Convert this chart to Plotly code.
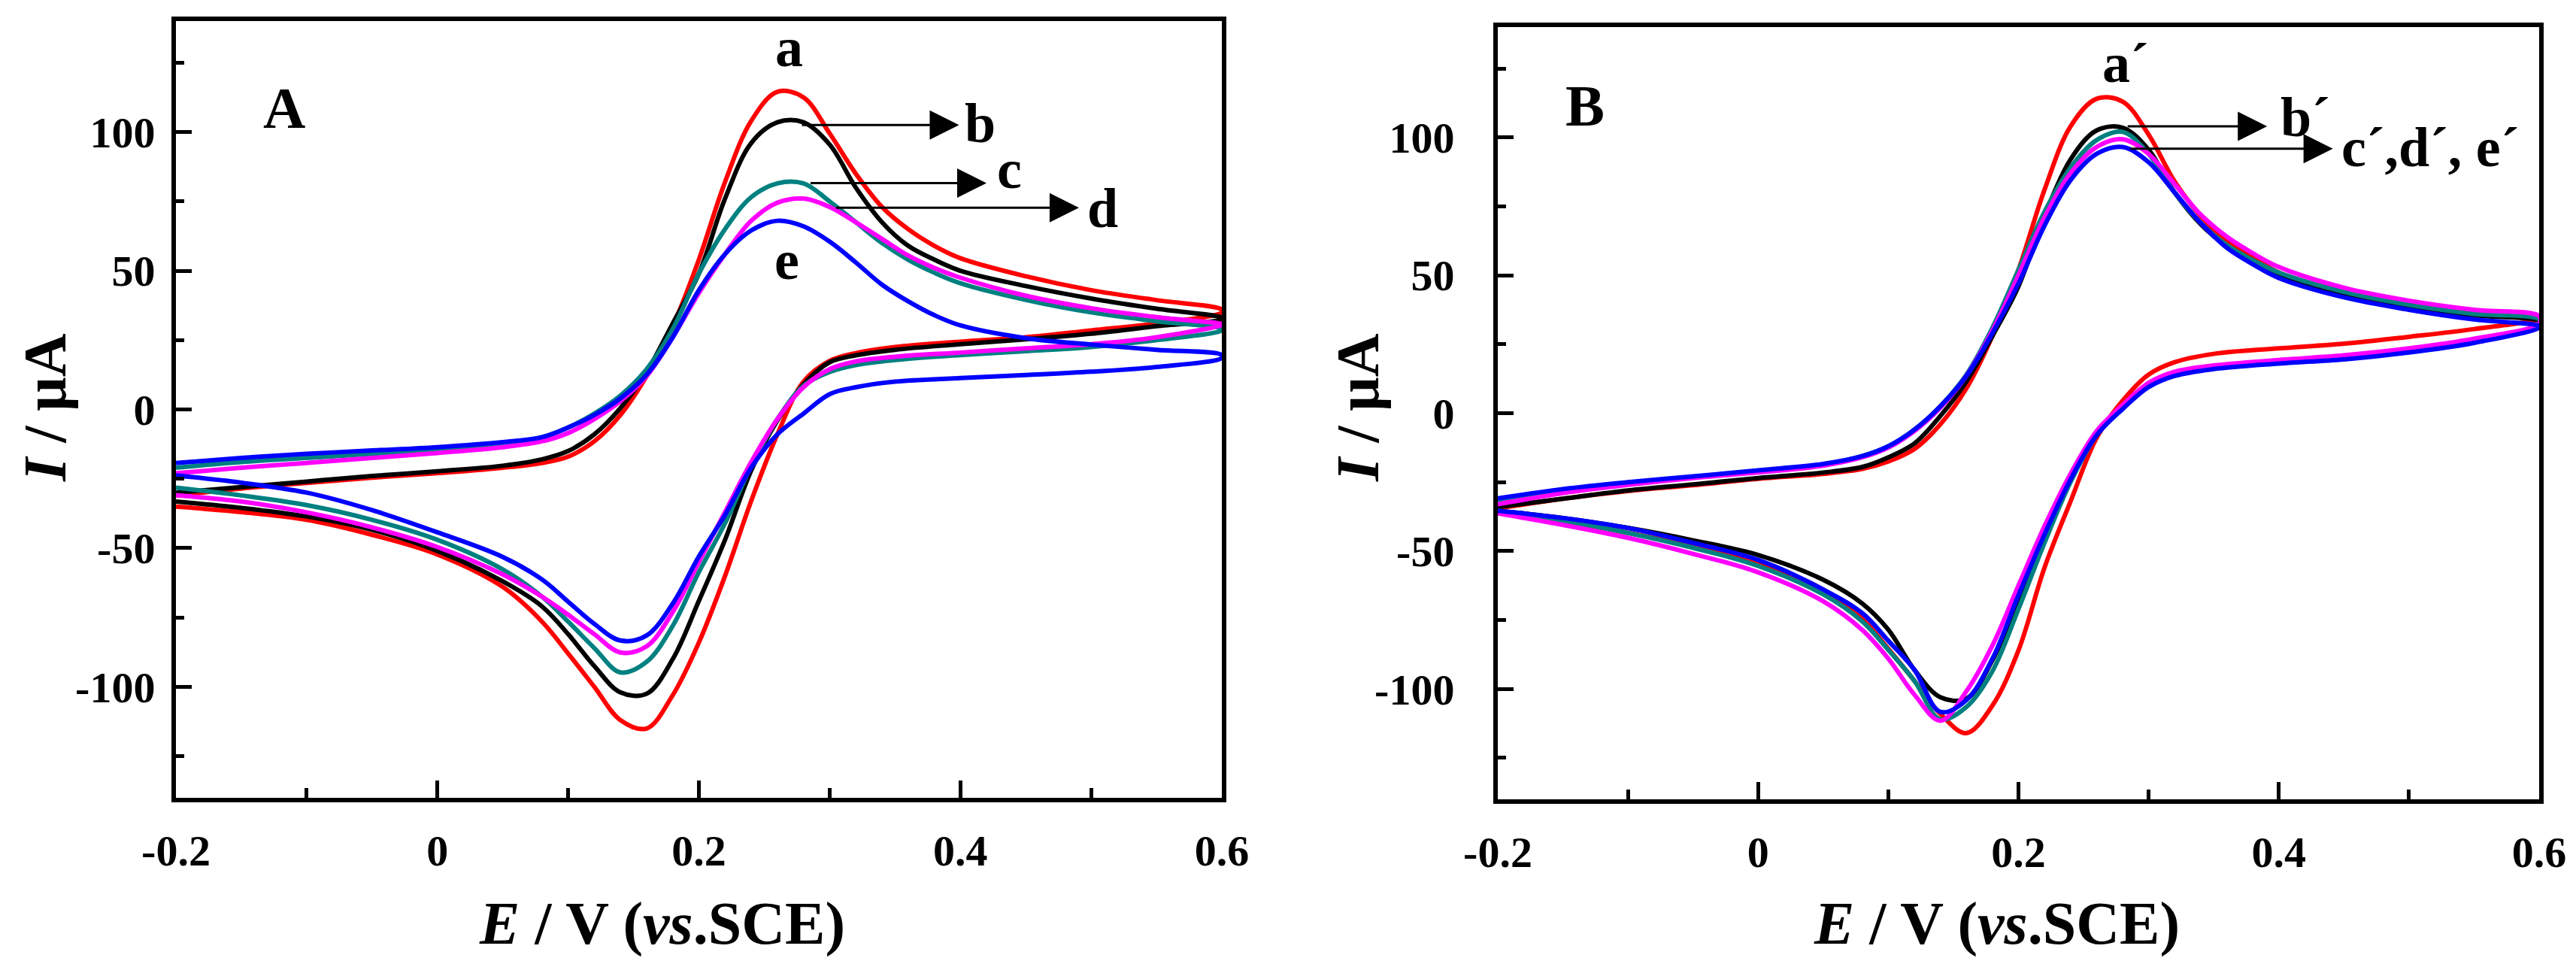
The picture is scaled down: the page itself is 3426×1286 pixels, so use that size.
import plotly.graph_objects as go

# page size; the html body keeps its default 8 px margin
W, H, OFF = 3410, 1270, 8

# potential grids (V vs SCE) for the anodic and the cathodic sweep
E_fwd = [-0.2, -0.15, -0.1, -0.05, 0.0, 0.05, 0.08, 0.1, 0.12, 0.14, 0.16, 0.18, 0.2,
         0.22, 0.24, 0.26, 0.28, 0.3, 0.32, 0.34, 0.36, 0.38, 0.4, 0.45, 0.5, 0.55, 0.6]
E_rev = [0.6, 0.55, 0.5, 0.45, 0.4, 0.35, 0.32, 0.3, 0.28, 0.26, 0.24, 0.22, 0.2,
         0.18, 0.16, 0.14, 0.12, 0.1, 0.08, 0.05, 0.0, -0.05, -0.1, -0.15, -0.2]

# panel A, current in uA
A_a_fwd = [-31, -28.5, -26.5, -24.6, -23, -21, -19.3, -17, -11.5, -2, 12, 30, 54,
           82, 104, 114.5, 112.5, 99.5, 85, 73, 65, 59, 54.5, 48, 43, 39.4, 36]
A_b_fwd = [-30, -28, -26, -24, -22.3, -20.3, -18, -15, -9, 0.5, 13.5, 31, 49,
           76, 96, 103.5, 103.5, 95.5, 80, 67.5, 59, 54, 50, 44.5, 40, 36.3, 33]
A_c_fwd = [-21, -19, -17.5, -16, -14.3, -12.2, -10, -6.5, -1.5, 5, 14.5, 29, 49,
           65, 76.5, 81.5, 81.5, 75, 67.5, 60, 54, 49.3, 45.5, 39.5, 35, 31.8, 29]
A_d_fwd = [-23, -21, -19.3, -17.5, -15.7, -13.6, -11.5, -8.5, -3.5, 3, 12, 26, 42,
           56, 68, 74.5, 76, 73, 67.5, 61.5, 55.5, 51, 47.5, 41, 36.5, 33.3, 30.7]
A_e_fwd = [-19.3, -17.5, -16, -14.8, -13.6, -11.8, -10, -6.5, -2, 4, 12.5, 26, 43,
           56, 64.5, 68, 66, 60.5, 53, 45, 39, 34, 30.3, 25.7, 23.4, 21.5, 19.6]

A_a_rev = [35, 31, 28.5, 26, 24.4, 22.5, 20.3, 17.5, 10, -9, -33, -60, -84,
           -103, -115, -112, -100, -88, -76.5, -64, -52.3, -45.2, -39.8, -37, -35]
A_b_rev = [32.5, 30, 27.3, 25.3, 23.5, 21.5, 19.5, 17, 9, -4, -22, -47, -69,
           -90, -102.5, -102, -92.5, -81, -71, -62, -51, -43.4, -38.6, -35.5, -33.2]
A_c_rev = [28.5, 25, 22.5, 21, 19.6, 17.8, 16, 13.5, 8.5, -3.5, -20.5, -41, -58.6,
           -78, -91, -94.8, -86, -76.5, -67.5, -57.7, -47, -39.8, -34.5, -31, -28.2]
A_d_rev = [30.5, 26, 23.5, 22, 20.5, 19, 17.3, 14.5, 8, -3.5, -19, -37, -55,
           -73, -85.4, -87.6, -81, -74, -67.5, -59.5, -49.6, -42.5, -37.1, -33.2, -30.9]
A_e_rev = [18.6, 15.3, 13.6, 12.4, 11.3, 10, 8, 5.5, -1.5, -9, -21, -38, -53,
           -70, -81.5, -83.3, -77.3, -69.3, -61.3, -53.2, -44.3, -36.3, -30, -26.4, -23.8]

# panel B
B_a_fwd = [-34.5, -31, -28.2, -26.1, -23.8, -22, -20.2, -17.5, -13, -4, 9, 28, 52,
           81, 104, 114, 113, 101, 84, 71.5, 62.5, 56.7, 51, 44, 39.5, 36.5, 35]
B_b_fwd = [-34, -31, -28, -25.8, -23.5, -21.5, -19.5, -16, -11, -1, 11.5, 28, 46,
           71.5, 92, 102.5, 103.5, 95.5, 80, 68.5, 60.5, 55, 50.5, 43, 38.5, 35.5, 33.4]
B_c_fwd = [-32, -28.5, -25.5, -23.2, -21, -18.6, -15.5, -12, -6, 2.5, 14, 31, 52,
           73, 89, 99, 102, 94, 80, 69, 61, 55.5, 51, 44, 39.3, 36, 34]
B_d_fwd = [-33, -29, -26, -23.5, -21.5, -19, -16, -12.5, -6.5, 2, 13.5, 30, 50,
           71, 87, 96.5, 99.3, 94, 83, 72, 64, 58, 53, 45.5, 40.8, 37.5, 35.2]
B_e_fwd = [-30.9, -27.5, -25, -22.9, -20.7, -18.4, -15.6, -12, -6, 2.5, 13.5, 29, 47,
           68, 84.5, 94, 96.5, 91, 80, 69, 60, 54, 49, 42, 37.5, 34, 31.6]

B_a_rev = [34.3, 30.5, 27.7, 25.2, 23.5, 21.5, 18.5, 14, 4.5, -9, -32, -56, -86,
           -106, -116, -109, -97, -85.4, -74.5, -64, -54, -48, -43.4, -39, -35.4]
B_b_rev = [32, 26.5, 23, 20.5, 18.8, 16.8, 14.3, 10, 2, -7.5, -24, -46, -67.5,
           -89.5, -103.5, -103, -93, -78.5, -69, -60.4, -51.4, -46.1, -41.6, -38, -35.4]
B_c_rev = [31.5, 26.3, 22.7, 20.3, 18.6, 16.6, 14, 10, 2, -8, -25, -47, -71,
           -93.5, -106.5, -111, -97, -85.8, -75.5, -65.7, -55.4, -48.8, -43.4, -39, -35.4]
B_d_rev = [32.5, 27, 23.5, 21, 19.3, 17.3, 15, 11, 3, -6.5, -22, -41, -62.5,
           -84.2, -100.8, -111.5, -102, -89, -78.6, -68.2, -57.7, -51, -45.2, -40.5, -36.3]
B_e_rev = [31, 25.5, 22, 19.5, 18, 16, 13.5, 9.5, 1.5, -8, -24, -44, -66,
           -89, -104, -108.3, -93, -82.5, -72.5, -63.9, -53.2, -47, -41.6, -38, -35.4]

colors = ["#ff0000", "#000000", "#008080", "#ff00ff", "#0000ff"]

# axis ticks
x_ticks = [-0.2, 0.0, 0.2, 0.4, 0.6]
x_ticktext = ["-0.2", "0", "0.2", "0.4", "0.6"]
x_minor = [-0.1, 0.1, 0.3, 0.5]
y_ticks = [-100, -50, 0, 50, 100]
y_ticktext = ["-100", "-50", "0", "50", "100"]
y_minor = [-125, -75, -25, 25, 75, 125]

# curve labels: (text, x, y, xanchor)
labels_A = [("a", 0.269, 130.5, "center"), ("b", 0.415, 103, "center"),
            ("c", 0.4375, 86.7, "center"), ("d", 0.509, 72.4, "center"),
            ("e", 0.267, 53.7, "center")]
labels_B = [("a´", 0.2635, 127, "left"), ("b´", 0.400, 107.3, "left"),
            ("c´,d´, e´", 0.447, 96.5, "left")]
# arrows: (tail x, head x, y)
arrows_A = [(0.278, 0.399, 102.5), (0.2845, 0.420, 81.6), (0.304, 0.4907, 72.7)]
arrows_B = [(0.283, 0.391, 104), (0.285, 0.4415, 95.9)]


def px_x(p):
    return (p - OFF) / W


def px_y(p):
    return 1 - (p - OFF) / H


SERIF = "Liberation Serif"

fig = go.Figure()

panels = [
    ("x", "y", [(A_a_fwd, A_a_rev), (A_b_fwd, A_b_rev), (A_c_fwd, A_c_rev),
                (A_d_fwd, A_d_rev), (A_e_fwd, A_e_rev)]),
    ("x2", "y2", [(B_a_fwd, B_a_rev), (B_b_fwd, B_b_rev), (B_c_fwd, B_c_rev),
                  (B_d_fwd, B_d_rev), (B_e_fwd, B_e_rev)]),
]
for xa, ya, curves in panels:
    for (fwd, rev), col in zip(curves, colors):
        fig.add_trace(go.Scatter(
            x=E_fwd + E_rev, y=fwd + rev, xaxis=xa, yaxis=ya,
            mode="lines", line=dict(color=col, width=6, shape="spline", smoothing=1.0),
            showlegend=False, hoverinfo="skip"))

axis_common = dict(showgrid=False, zeroline=False, showline=True, linecolor="black",
                   linewidth=6, mirror=True, ticks="inside", tickwidth=5,
                   tickcolor="black", automargin=False,
                   tickfont=dict(family=SERIF, size=58, color="black", weight="bold"))

xdoms = [[px_x(234), px_x(1625)], [px_x(1992), px_x(3377)]]
ydoms = [[px_y(1061), px_y(28)], [px_y(1063), px_y(36)]]

for i, name in enumerate(["", "2"]):
    fig.update_layout(**{
        "xaxis" + name: dict(axis_common, domain=xdoms[i], range=[-0.2, 0.6],
                             anchor="y" + name, tickvals=x_ticks, ticktext=x_ticktext,
                             ticklen=23, ticklabelstandoff=14,
                             minor=dict(tickvals=x_minor, ticks="inside", ticklen=13,
                                        tickwidth=5, tickcolor="black")),
        "yaxis" + name: dict(axis_common, domain=ydoms[i], range=[-140, 140],
                             anchor="x" + name, tickvals=y_ticks, ticktext=y_ticktext,
                             ticklen=21, ticklabelstandoff=10 if i == 0 else 40,
                             minor=dict(tickvals=y_minor, ticks="inside", ticklen=11,
                                        tickwidth=5, tickcolor="black")),
    })

ann = []
lab_font = dict(family=SERIF, size=74, color="black", weight="bold")

# panel letters
ann.append(dict(text="A", x=-0.117, y=108.8, xref="x", yref="y", showarrow=False,
                xanchor="center", yanchor="middle", font=dict(lab_font, size=78)))
ann.append(dict(text="B", x=-0.133, y=111.5, xref="x2", yref="y2", showarrow=False,
                xanchor="center", yanchor="middle", font=dict(lab_font, size=78)))

for (labels, arrows, xr, yr) in [(labels_A, arrows_A, "x", "y"), (labels_B, arrows_B, "x2", "y2")]:
    for t, lx, ly, anc in labels:
        ann.append(dict(text=t, x=lx, y=ly, xref=xr, yref=yr, showarrow=False,
                        xanchor=anc, yanchor="middle", font=lab_font))
    for x0, x1, ay in arrows:
        ann.append(dict(text="", x=x1, y=ay, ax=x0, ay=ay, xref=xr, yref=yr,
                        axref=xr, ayref=yr, showarrow=True, arrowhead=2,
                        arrowsize=2.6, arrowwidth=3, arrowcolor="black"))

# axis titles
title_font = dict(family=SERIF, size=80, color="black", weight="bold")
xt = "<i>E</i> / V (<i>vs</i>.SCE)"
yt = "<i>I</i> / μA"
for cx in [880, 2655]:
    ann.append(dict(text=xt, x=px_x(cx), y=px_y(1228), xref="paper", yref="paper",
                    xanchor="center", yanchor="middle", showarrow=False, font=title_font))
for cx in [60, 1806]:
    ann.append(dict(text=yt, x=px_x(cx), y=px_y(542), xref="paper", yref="paper",
                    xanchor="center", yanchor="middle", showarrow=False,
                    textangle=-90, font=title_font))

fig.update_layout(
    width=W, height=H, margin=dict(l=0, r=0, t=0, b=0),
    paper_bgcolor="white", plot_bgcolor="white",
    annotations=ann,
)

fig.write_html("out.html")
